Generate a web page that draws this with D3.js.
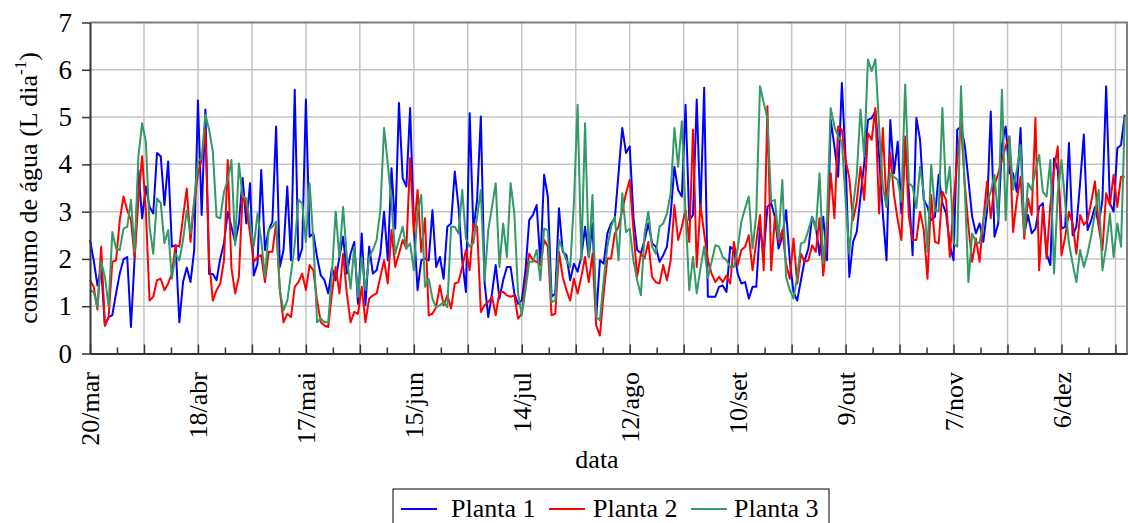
<!DOCTYPE html>
<html>
<head>
<meta charset="utf-8">
<script src="https://cdn.jsdelivr.net/npm/d3@7"></script>
<style>
  body { margin: 0; background: #fff; }
  svg { display: block; font-family: "Liberation Serif", "Times New Roman", serif; }
</style>
</head>
<body>
<script>
// daily water use (L/day), one value per day starting 20/mar
var plant1 = [
  2.40,1.97,1.44,1.80,0.59,0.77,0.81,1.27,1.69,1.99,
  2.04,0.56,2.04,3.88,2.86,3.53,3.10,2.96,4.24,4.17,
  3.14,4.06,2.26,2.29,0.66,1.51,1.82,1.51,2.19,5.35,
  2.93,5.16,1.68,1.68,1.55,2.01,2.33,3.00,2.68,2.36,
  2.75,3.71,2.75,3.60,1.65,1.90,3.88,2.19,2.61,2.79,
  4.80,1.83,2.19,3.53,1.97,5.58,1.97,2.22,5.37,2.47,
  2.54,2.04,1.65,1.55,1.27,1.80,1.55,2.04,2.47,1.69,
  2.11,2.36,1.05,2.54,1.02,2.26,1.69,1.76,2.11,3.00,
  1.97,3.92,2.64,5.30,3.71,3.53,5.19,2.72,1.34,1.97,
  2.01,1.97,3.03,1.83,2.04,1.58,2.68,2.75,3.85,3.10,
  1.97,1.30,5.08,2.61,3.25,5.01,1.51,0.77,1.27,1.87,
  1.16,1.55,1.83,1.83,1.27,1.05,1.12,1.76,2.82,2.93,
  3.14,1.90,3.78,3.32,1.20,1.27,3.07,2.15,2.08,1.55,
  1.90,1.73,2.04,2.68,2.04,2.75,0.77,1.97,1.90,2.54,
  2.75,2.86,3.81,4.77,4.24,4.38,2.89,2.19,2.12,2.40,
  2.75,2.33,2.26,1.94,2.08,2.26,2.93,3.95,3.46,3.32,
  5.26,2.82,2.93,5.37,2.96,5.62,1.20,1.20,1.20,1.41,
  1.44,1.30,2.26,2.19,1.69,1.48,1.51,1.16,1.41,1.41,
  2.68,2.11,3.10,3.18,2.89,2.22,2.47,3.03,1.97,1.30,
  1.12,1.55,1.97,2.22,2.89,2.68,2.08,2.89,1.97,4.94,
  4.38,3.74,5.72,4.09,1.62,2.36,2.57,3.32,4.02,4.94,
  4.98,5.12,4.17,2.96,1.97,4.94,3.81,4.48,2.96,4.40,
  3.40,2.08,4.98,4.52,3.25,3.10,2.82,2.89,3.78,3.18,
  2.96,2.29,1.97,4.73,4.80,4.41,3.67,2.89,2.54,2.75,
  2.36,3.03,5.12,2.47,2.75,4.41,4.80,3.81,3.81,3.42,
  4.77,2.54,2.93,2.54,2.64,3.10,3.18,2.11,1.87,4.13,
  3.88,2.64,2.68,4.45,2.50,2.68,3.60,4.63,2.61,2.82,
  3.10,2.72,3.25,5.65,3.18,3.00,4.34,4.41,5.05
];

var plant2 = [
  1.55,1.41,0.93,2.26,0.59,0.77,1.94,1.97,2.82,3.32,
  3.03,2.82,2.01,3.25,4.17,3.03,1.12,1.20,1.55,1.58,
  1.34,1.48,1.69,2.29,2.26,2.89,3.49,2.36,3.18,3.81,
  4.09,4.73,1.97,1.12,1.34,1.48,1.97,4.09,1.80,1.27,
  1.62,3.39,3.10,2.54,1.94,2.04,2.08,1.51,2.15,2.15,
  2.75,1.34,0.66,0.84,0.77,1.41,1.51,1.69,1.34,1.87,
  1.76,1.12,0.66,0.59,0.56,1.27,1.83,1.27,2.11,1.27,
  0.66,0.88,0.84,1.41,0.66,1.16,1.23,1.27,1.62,1.97,
  1.48,2.61,1.83,2.11,2.40,2.22,4.13,2.54,3.46,2.15,
  2.86,0.81,0.84,0.98,1.44,1.02,1.23,0.95,1.48,1.51,
  1.83,2.19,1.76,2.75,2.68,0.88,1.02,1.09,1.20,0.81,
  1.30,1.30,1.23,1.20,1.23,0.74,0.84,1.51,2.11,1.97,
  1.94,1.87,2.40,2.26,0.81,0.84,2.15,1.62,1.34,1.12,
  1.58,1.27,1.62,2.04,1.51,2.11,0.59,0.38,1.27,2.01,
  2.01,2.54,2.68,3.03,3.39,3.67,2.61,1.62,2.11,2.01,
  2.36,1.62,1.51,1.48,1.87,1.55,1.97,3.14,2.40,2.68,
  3.03,2.36,4.73,1.83,3.14,2.54,1.97,1.69,1.51,1.62,
  1.51,1.65,1.48,2.36,1.87,2.19,2.26,2.50,1.76,2.36,
  2.93,1.76,5.23,1.76,2.89,2.36,2.61,1.90,1.58,2.43,
  1.48,2.11,1.94,1.97,2.29,2.15,2.86,1.65,2.47,3.81,
  2.86,4.80,4.73,4.09,3.71,2.82,3.21,3.95,3.25,4.66,
  4.52,5.19,2.96,4.77,3.10,4.24,3.35,2.82,2.40,4.59,
  2.89,2.40,2.40,3.00,2.61,1.58,3.35,2.36,2.33,3.42,
  3.25,2.04,3.18,4.10,4.87,3.60,2.68,1.94,2.43,1.94,
  2.82,3.64,2.86,3.56,3.81,4.09,4.38,4.59,2.57,3.25,
  3.74,2.43,3.28,2.93,4.98,1.76,3.10,2.01,3.14,3.88,
  4.38,2.08,2.47,3.00,2.75,2.11,2.93,2.72,2.82,3.21,
  3.64,2.68,2.19,3.39,3.14,3.78,3.10,3.74,3.74
];

var plant3 = [
  1.34,1.30,0.98,1.94,1.62,1.00,2.57,2.22,2.19,2.64,
  2.68,3.25,2.15,4.17,4.87,4.48,2.68,2.11,3.28,3.18,
  2.33,2.61,1.58,2.11,1.97,2.40,3.03,2.54,3.25,4.06,
  4.13,5.05,4.73,4.27,2.89,2.86,3.42,3.67,4.09,2.29,
  4.02,3.32,3.28,2.75,2.26,2.96,2.40,1.62,2.61,2.68,
  2.79,1.34,0.91,1.12,1.69,2.30,3.25,3.18,2.36,3.60,
  2.40,0.66,0.74,0.66,0.66,1.69,3.00,2.04,3.10,2.04,
  1.37,2.26,1.20,2.04,1.34,2.04,2.19,2.40,3.03,4.77,
  4.02,3.18,2.11,2.40,2.68,2.22,2.33,1.76,3.00,3.35,
  1.41,1.58,1.16,0.98,1.02,1.09,0.98,2.68,2.68,2.54,
  3.46,2.43,2.26,2.33,2.89,3.46,1.55,2.61,3.10,3.60,
  1.83,2.75,2.04,3.60,2.96,1.27,0.81,1.34,1.94,1.94,
  2.19,1.55,2.64,2.61,1.09,1.12,2.40,2.19,1.97,1.83,
  3.18,5.26,1.97,4.87,2.04,3.35,0.77,0.70,1.55,2.26,
  2.68,2.89,1.97,3.39,2.57,2.64,1.97,1.55,1.23,2.54,
  3.00,2.26,2.11,2.68,2.75,2.96,3.39,4.77,3.95,4.91,
  2.96,1.34,2.04,1.27,1.80,2.26,1.60,1.94,2.29,2.26,
  2.04,1.97,1.83,1.83,2.22,2.79,3.07,3.32,2.22,2.93,
  5.65,5.30,4.98,3.21,3.25,2.43,3.67,1.62,1.34,1.16,
  1.62,2.33,2.36,2.61,2.89,2.61,3.81,1.90,2.82,5.19,
  4.80,4.59,4.48,3.25,2.11,3.10,3.78,5.16,4.17,6.22,
  5.97,6.22,4.80,3.53,3.10,3.81,3.74,3.67,3.21,5.69,
  3.60,3.53,3.07,3.95,3.39,2.15,3.99,3.03,3.00,5.19,
  3.39,3.95,2.33,2.26,5.65,3.53,1.51,2.54,2.36,2.33,
  2.82,3.18,3.42,3.78,2.82,5.58,2.82,4.59,3.46,3.88,
  4.41,2.54,3.60,3.46,3.88,4.20,3.42,3.32,4.09,1.69,
  3.39,4.09,3.18,2.33,1.90,1.51,2.19,1.83,2.11,2.50,
  2.96,3.46,1.76,2.26,2.96,2.04,2.75,2.26,5.01
];

var seriesNames = ["Planta 1", "Planta 2", "Planta 3"];
var seriesColors = ["#0000ff", "#ff0000", "#339966"];
var tickLabels = ["20/mar","18/abr","17/mai","15/jun","14/jul","12/ago","10/set","9/out","7/nov","6/dez"];
var labelStep = 29;     // days between labelled dates
var yTicks = [0,1,2,3,4,5,6,7];

var W = 1128, H = 523;
var plotL = 90, plotR = 1127, plotT = 22.5, plotB = 353.5;

var svg = d3.select("body").append("svg")
            .attr("width", W)
            .attr("height", H);

var x = d3.scaleLinear().domain([0, 278.6]).range([plotL, plotR]);
var y = d3.scaleLinear().domain([0, 7]).range([plotB, plotT]);

// grid
var gridDays = d3.range(14.5, 278, 14.5);
svg.append("g").selectAll("line")
   .data(gridDays).enter().append("line")
   .attr("x1", function(d){ return x(d); })
   .attr("x2", function(d){ return x(d); })
   .attr("y1", plotT).attr("y2", plotB)
   .attr("stroke", "#c4c4c4").attr("stroke-width", 1.5);

svg.append("g").selectAll("line")
   .data(yTicks.slice(1, -1)).enter().append("line")
   .attr("x1", plotL).attr("x2", plotR)
   .attr("y1", function(d){ return y(d); })
   .attr("y2", function(d){ return y(d); })
   .attr("stroke", "#c4c4c4").attr("stroke-width", 1.5);

// frame (top + right)
svg.append("path")
   .attr("d", "M" + plotL + "," + plotT + "H" + plotR + "V" + plotB)
   .attr("fill", "none")
   .attr("stroke", "#7f7f7f")
   .attr("stroke-width", 2);

// series
var series = [plant1, plant2, plant3];
var line = d3.line()
             .x(function(d, i){ return x(i); })
             .y(function(d){ return y(d); });

series.forEach(function(s, k) {
  svg.append("path")
     .datum(s)
     .attr("fill", "none")
     .attr("stroke", seriesColors[k])
     .attr("stroke-width", 2)
     .attr("stroke-linejoin", "round")
     .attr("d", line);
});

// y axis
var yAxis = svg.append("g")
   .attr("transform", "translate(" + plotL + ",0)")
   .call(d3.axisLeft(y).tickValues(yTicks).tickFormat(d3.format("d"))
           .tickSize(8).tickSizeOuter(0).tickPadding(10));
yAxis.select(".domain").attr("stroke", "#333").attr("stroke-width", 2);
yAxis.selectAll(".tick line").attr("stroke", "#333").attr("stroke-width", 1.5);
yAxis.selectAll("text")
     .attr("font-family", "Liberation Serif")
     .attr("font-size", 27)
     .attr("fill", "#000");

// x axis: small ticks inside the plot
var minorDays = d3.range(7.25, 278, 14.5);
var xMinor = svg.append("g")
   .attr("transform", "translate(0," + plotB + ")")
   .call(d3.axisBottom(x).tickValues(minorDays).tickSize(-6).tickSizeOuter(0).tickFormat(""));
var xMajor = svg.append("g")
   .attr("transform", "translate(0," + plotB + ")")
   .call(d3.axisBottom(x).tickValues([0].concat(gridDays)).tickSize(-9).tickSizeOuter(0).tickFormat(""));
[xMinor, xMajor].forEach(function(g) {
  g.select(".domain").attr("stroke", "#333").attr("stroke-width", 2);
  g.selectAll(".tick line").attr("stroke", "#333").attr("stroke-width", 1.5);
});

// date labels
svg.append("g").selectAll("text")
   .data(tickLabels).enter().append("text")
   .attr("transform", function(d, i){
      return "translate(" + x(i * labelStep) + ",372) rotate(-90)";
   })
   .attr("dy", "0.35em")
   .attr("text-anchor", "end")
   .attr("font-size", 26)
   .text(function(d){ return d; });

// axis titles
svg.append("text")
   .attr("x", 597).attr("y", 468)
   .attr("text-anchor", "middle")
   .attr("font-size", 26)
   .text("data");

var yTitle = svg.append("text")
   .attr("transform", "translate(37," + ((plotT + plotB) / 2) + ") rotate(-90)")
   .attr("text-anchor", "middle")
   .attr("font-size", 26);
yTitle.append("tspan").text("consumo de água (L dia");
yTitle.append("tspan").attr("dy", -11).attr("font-size", 17).text("-1");
yTitle.append("tspan").attr("dy", 11).text(")");

// legend
var legend = svg.append("g");
legend.append("rect")
      .attr("x", 393).attr("y", 489)
      .attr("width", 436).attr("height", 40)
      .attr("fill", "#fff")
      .attr("stroke", "#000")
      .attr("stroke-width", 1);

var legendLineX = [401, 549, 691];
var legendTextX = [451, 593, 734];
seriesNames.forEach(function(name, k) {
  legend.append("line")
        .attr("x1", legendLineX[k]).attr("x2", legendLineX[k] + 36)
        .attr("y1", 509).attr("y2", 509)
        .attr("stroke", seriesColors[k])
        .attr("stroke-width", 2);
  legend.append("text")
        .attr("x", legendTextX[k]).attr("y", 517)
        .attr("font-size", 26)
        .text(name);
});
</script>
</body>
</html>
